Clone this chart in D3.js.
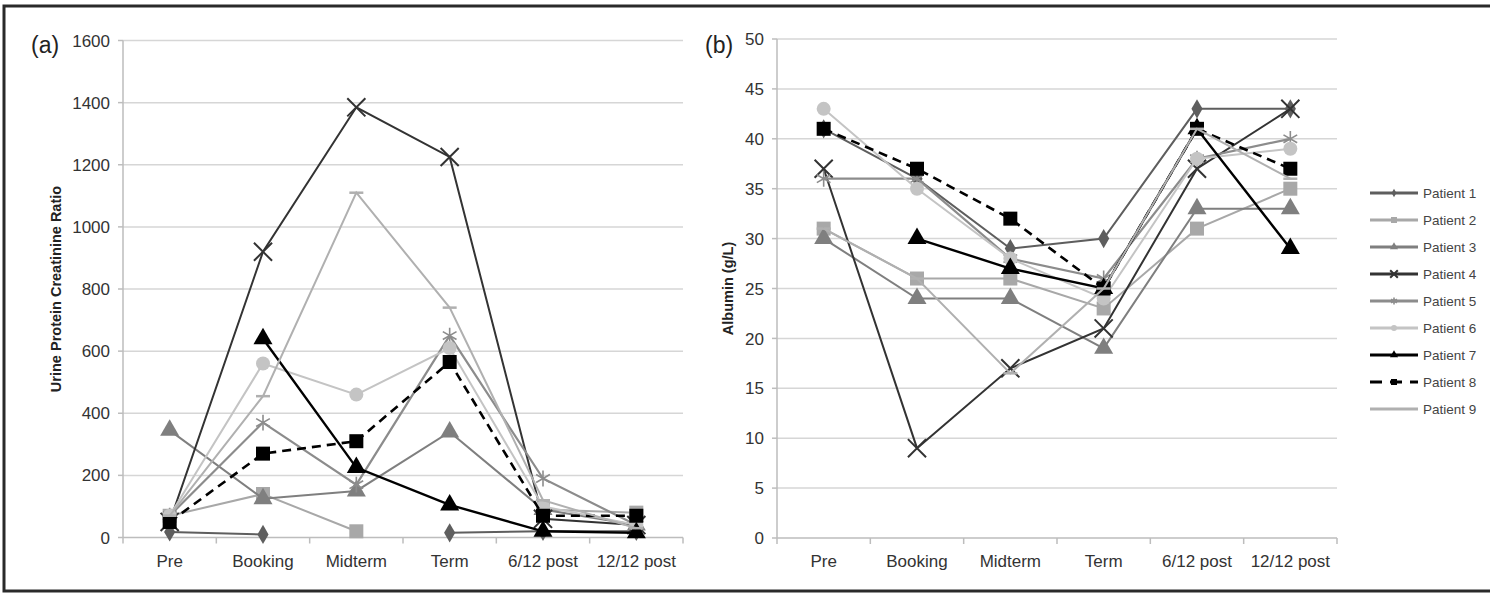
<!DOCTYPE html>
<html>
<head>
<meta charset="utf-8">
<script src="https://cdn.jsdelivr.net/npm/d3@7"></script>
<style>
  body { margin:0; background:#fff; }
  text { font-family: "Liberation Sans", Arial, sans-serif; }
</style>
</head>
<body>
<script>
////////////////////////////////////////////////////////////
//////////////////////// Data //////////////////////////////
////////////////////////////////////////////////////////////

var categories = ["Pre", "Booking", "Midterm", "Term", "6/12 post", "12/12 post"];
var patients = ["Patient 1", "Patient 2", "Patient 3", "Patient 4", "Patient 5",
                "Patient 6", "Patient 7", "Patient 8", "Patient 9"];

// (a) urine protein creatinine ratio, one row per patient (null = no sample)
var upcr = [
  [18, 10, null, 15, 20, 20],
  [70, 140, 20, null, 90, 80],
  [345, 125, 150, 340, 90, 40],
  [50, 920, 1385, 1225, 60, 40],
  [70, 370, 170, 650, 190, 40],
  [70, 560, 460, 610, 100, 40],
  [null, 640, 225, 105, 20, 15],
  [50, 270, 310, 565, 70, 70],
  [70, 455, 1110, 740, 120, 30]
];

// (b) albumin g/L
var albumin = [
  [41, 36, 29, 30, 43, 43],
  [31, 26, 26, 23, 31, 35],
  [30, 24, 24, 19, 33, 33],
  [37, 9, 17, 21, 37, 43],
  [36, 36, 28, 26, 38, 40],
  [43, 35, 28, 24, 38, 39],
  [null, 30, 27, 25, 41, 29],
  [41, 37, 32, 25, 41, 37],
  [31, 26, 16.5, 25, 41, 36]
];

var upcrTicks = [0, 200, 400, 600, 800, 1000, 1200, 1400, 1600];
var albuminTicks = [0, 5, 10, 15, 20, 25, 30, 35, 40, 45, 50];

// series styling (Excel greyscale look)
var colors  = ["#5e5e5e", "#a8a8a8", "#7f7f7f", "#333333", "#8c8c8c", "#c4c4c4", "#000000", "#000000", "#b0b0b0"];
var markers = ["diamond", "square", "triangle", "times", "asterisk", "circle", "triangle", "square", "dash"];
var widths  = [2, 2, 2, 2, 2.2, 2, 2.4, 2.6, 2];

////////////////////////////////////////////////////////////
////////////////////// Create SVG //////////////////////////
////////////////////////////////////////////////////////////

var W = 1490, H = 595;
var svg = d3.select("body").append("svg")
    .attr("width", W)
    .attr("height", H);

svg.append("rect")
  .attr("x", 4).attr("y", 6)
  .attr("width", W + 10).attr("height", 585)
  .style("fill", "#fff")
  .style("stroke", "#2a2a2a")
  .style("stroke-width", 3);

////////////////////////////////////////////////////////////
////////////////// Marker helper ///////////////////////////
////////////////////////////////////////////////////////////

function drawMarker(g, type, color, s) {
  if (type === "circle") {
    g.append("circle").attr("r", s * 0.5).style("fill", color);
  } else if (type === "square") {
    g.append("rect").attr("x", -s / 2).attr("y", -s / 2).attr("width", s).attr("height", s).style("fill", color);
  } else if (type === "diamond") {
    g.append("path").attr("d", d3.symbol().type(d3.symbolDiamond).size(s * s * 0.55)()).style("fill", color);
  } else if (type === "triangle") {
    g.append("path").attr("d", d3.symbol().type(d3.symbolTriangle).size(s * s * 0.8)()).style("fill", color);
  } else if (type === "times") {
    g.append("path").attr("d", d3.symbol().type(d3.symbolTimes).size(s * s * 1.1)())
      .style("fill", "none").style("stroke", color).style("stroke-width", 2);
  } else if (type === "asterisk") {
    g.append("path").attr("d", d3.symbol().type(d3.symbolAsterisk).size(s * s * 0.9)())
      .style("fill", "none").style("stroke", color).style("stroke-width", 1.6);
  } else if (type === "dash") {
    g.append("line").attr("x1", -s / 2).attr("x2", s / 2)
      .style("stroke", color).style("stroke-width", 2.5);
  }
}

////////////////////////////////////////////////////////////
////////////////// Draw a panel ////////////////////////////
////////////////////////////////////////////////////////////

function drawPanel(p) {
  var g = svg.append("g");

  var x = d3.scaleBand().domain(categories).range([p.x0, p.x1]);
  var y = d3.scaleLinear().domain([0, p.ticks[p.ticks.length - 1]]).range([p.y1, p.y0]);
  var cx = function(i) { return x(categories[i]) + x.bandwidth() / 2; };

  //grid lines
  g.selectAll("line.grid")
    .data(p.ticks.slice(1))
    .enter().append("line")
    .attr("x1", p.x0).attr("x2", p.x1)
    .attr("y1", function(d) { return y(d); })
    .attr("y2", function(d) { return y(d); })
    .style("stroke", "#d6d6d6")
    .style("stroke-width", 1.5);

  //axes
  g.append("line")
    .attr("x1", p.x0).attr("x2", p.x0).attr("y1", p.y0).attr("y2", p.y1)
    .style("stroke", "#bdbdbd").style("stroke-width", 1.5);
  g.append("line")
    .attr("x1", p.x0).attr("x2", p.x1).attr("y1", p.y1).attr("y2", p.y1)
    .style("stroke", "#bdbdbd").style("stroke-width", 1.5);

  g.selectAll("line.ytick")
    .data(p.ticks)
    .enter().append("line")
    .attr("x1", p.x0 - 5).attr("x2", p.x0)
    .attr("y1", function(d) { return y(d); })
    .attr("y2", function(d) { return y(d); })
    .style("stroke", "#bdbdbd").style("stroke-width", 1.5);

  g.selectAll("line.xtick")
    .data(d3.range(categories.length + 1))
    .enter().append("line")
    .attr("x1", function(i) { return p.x0 + i * x.step(); })
    .attr("x2", function(i) { return p.x0 + i * x.step(); })
    .attr("y1", p.y1).attr("y2", p.y1 + 6)
    .style("stroke", "#bdbdbd").style("stroke-width", 1.5);

  //tick labels
  g.selectAll("text.ylab")
    .data(p.ticks)
    .enter().append("text")
    .attr("x", p.x0 - 13)
    .attr("y", function(d) { return y(d); })
    .attr("dy", "0.36em")
    .style("text-anchor", "end")
    .style("font-size", "17px")
    .style("fill", "#333")
    .text(function(d) { return d; });

  g.selectAll("text.xlab")
    .data(categories)
    .enter().append("text")
    .attr("x", function(d) { return x(d) + x.bandwidth() / 2; })
    .attr("y", p.y1 + 29)
    .style("text-anchor", "middle")
    .style("font-size", "17px")
    .style("fill", "#333")
    .text(function(d) { return d; });

  //panel letter and axis title
  g.append("text")
    .attr("x", p.letterX).attr("y", 53)
    .style("font-size", "23px")
    .style("fill", "#222")
    .text(p.letter);

  g.append("text")
    .attr("transform", "translate(" + p.titleX + "," + ((p.y0 + p.y1) / 2) + ") rotate(-90)")
    .attr("dy", "0.35em")
    .style("text-anchor", "middle")
    .style("font-size", "14.5px")
    .style("font-weight", "bold")
    .style("fill", "#222")
    .text(p.title);

  //series lines
  var line = d3.line()
    .defined(function(d) { return d != null; })
    .x(function(d, i) { return cx(i); })
    .y(function(d) { return y(d); });

  p.values.forEach(function(row, k) {
    g.append("path")
      .attr("d", line(row))
      .style("fill", "none")
      .style("stroke", colors[k])
      .style("stroke-width", widths[k])
      .style("stroke-dasharray", k === 7 ? "9,6" : null);

    row.forEach(function(v, i) {
      if (v == null) return;
      var m = g.append("g").attr("transform", "translate(" + cx(i) + "," + y(v) + ")");
      drawMarker(m, markers[k], colors[k], 14);
    });
  });
}

drawPanel({
  x0: 123, x1: 683, y0: 40.5, y1: 537.5,
  ticks: upcrTicks, values: upcr,
  letter: "(a)", letterX: 31,
  title: "Urine Protein Creatinine Ratio", titleX: 56
});

drawPanel({
  x0: 777, x1: 1337, y0: 39, y1: 538,
  ticks: albuminTicks, values: albumin,
  letter: "(b)", letterX: 705,
  title: "Albumin (g/L)", titleX: 728
});

////////////////////////////////////////////////////////////
////////////////////// Legend //////////////////////////////
////////////////////////////////////////////////////////////

var legend = svg.selectAll("g.legend")
  .data(patients)
  .enter().append("g")
  .attr("class", "legend")
  .attr("transform", function(d, i) { return "translate(1370," + (193 + i * 27) + ")"; });

legend.append("line")
  .attr("x1", 0).attr("x2", 48)
  .style("stroke", function(d, i) { return colors[i]; })
  .style("stroke-width", 3)
  .style("stroke-dasharray", function(d, i) { return i === 7 ? "12,8" : null; });

legend.each(function(d, i) {
  var m = d3.select(this).append("g").attr("transform", "translate(24,0)");
  if (i !== 8) drawMarker(m, markers[i], colors[i], 6);
});

legend.append("text")
  .attr("x", 53)
  .attr("dy", "0.36em")
  .style("font-size", "13.5px")
  .style("fill", "#444")
  .text(function(d) { return d; });
</script>
</body>
</html>
